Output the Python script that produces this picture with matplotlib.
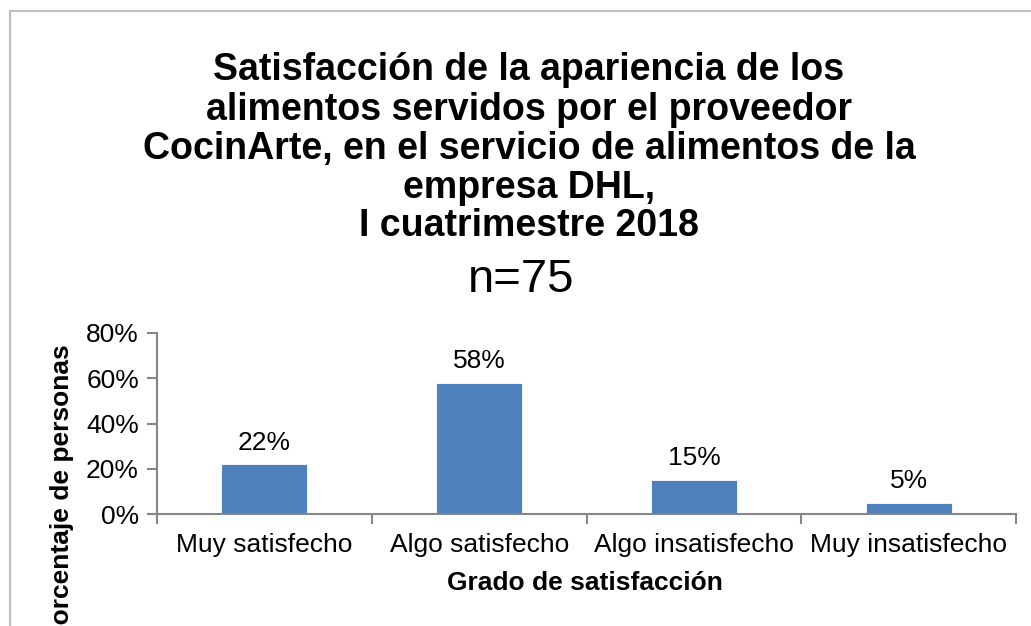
import matplotlib
matplotlib.use("Agg")
import matplotlib.pyplot as plt
from matplotlib.ticker import FuncFormatter, FixedLocator
from matplotlib.lines import Line2D

categories = ["Muy satisfecho", "Algo satisfecho", "Algo insatisfecho", "Muy insatisfecho"]
values = [0.22, 0.58, 0.15, 0.05]
labels = ["22%", "58%", "15%", "5%"]
title_lines = ["Satisfacción de la apariencia de los",
               "alimentos servidos por el proveedor",
               "CocinArte, en el servicio de alimentos de la",
               "empresa DHL,",
               "I cuatrimestre 2018"]
subtitle = "n=75"
xlabel = "Grado de satisfacción"
ylabel = "Porcentaje de personas"

plt.rcParams['font.family'] = ['Liberation Sans', 'DejaVu Sans']

W, H = 1031, 626
fig = plt.figure(figsize=(W/100, H/100), dpi=100)
ax = fig.add_axes([157/W, 1-514/H, (1016-157)/W, (514-333)/H])

bar_color = "#4F81BD"
x = list(range(len(categories)))
ax.bar(x, values, width=0.4, color=bar_color, edgecolor="white", linewidth=0.6, zorder=2)
for xi, v, lab in zip(x, values, labels):
    ax.annotate(lab, (xi, v), xytext=(0, 7), textcoords="offset points",
                ha="center", va="bottom", fontsize=19)

ax.set_xlim(-0.5, len(categories) - 0.5)
ax.set_ylim(0, 0.8)
ax.set_yticks([0, 0.2, 0.4, 0.6, 0.8])
ax.yaxis.set_major_formatter(FuncFormatter(lambda v, p: f"{v*100:.0f}%"))
ax.set_xticks(x)
ax.set_xticklabels(categories, fontsize=19)
ax.xaxis.set_minor_locator(FixedLocator([i - 0.5 for i in range(len(categories) + 1)]))
ax.tick_params(axis="x", which="major", length=0, pad=14)
ax.tick_params(axis="x", which="minor", length=7, width=1.5, color="#868686")
ax.tick_params(axis="y", length=7, width=1.5, color="#868686", labelsize=19, pad=6)
for s in ["top", "right"]:
    ax.spines[s].set_visible(False)
for s in ["left", "bottom"]:
    ax.spines[s].set_color("#868686")
    ax.spines[s].set_linewidth(1.5)

fig.text(585/W, 1-583/H, xlabel, ha="center", va="center", fontsize=19, fontweight="bold")
fig.text(62/W, 1-344/H, ylabel, ha="center", va="top", rotation=90, fontsize=19, fontweight="bold")

line_y = [70, 110, 149, 188, 226]
for ty, tl in zip(line_y, title_lines):
    fig.text(529/W, 1-ty/H, tl, ha="center", va="center", fontsize=27, fontweight="bold")
fig.text(521/W, 1-280/H, subtitle, ha="center", va="center", fontsize=34)

# chart area border (left and top visible)
fig.add_artist(Line2D([9.5/W, 9.5/W], [0, 1-11/H], color="#BFBFBF", linewidth=1.5, transform=fig.transFigure))
fig.add_artist(Line2D([9.5/W, 1], [1-11/H, 1-11/H], color="#BFBFBF", linewidth=1.5, transform=fig.transFigure))

fig.savefig("out.png", dpi=100)
